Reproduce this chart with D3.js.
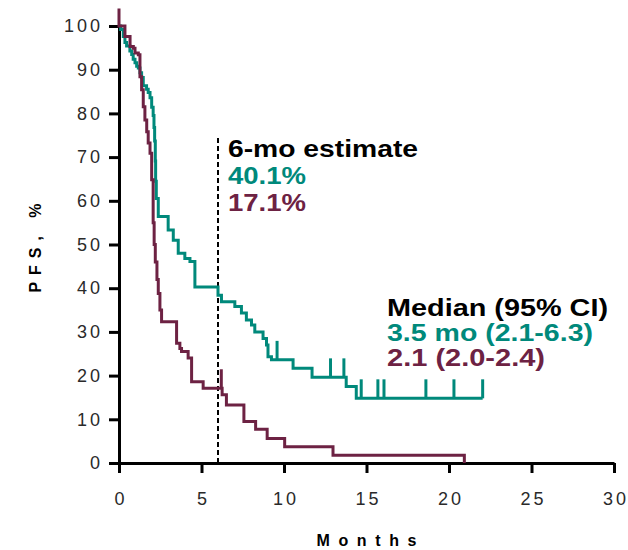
<!DOCTYPE html>
<html>
<head>
<meta charset="utf-8">
<script src="https://cdn.jsdelivr.net/npm/d3@7"></script>
<style>
	body { margin: 0; background: #fff; }
	text { font-family: "Liberation Sans", Arial, sans-serif; }
	.tick text { fill: #2a2a2a; font-size: 18px; letter-spacing: 3px; }
	.axis path, .axis line { stroke: #000; stroke-width: 3; }
</style>
</head>
<body>
<div id="chart"></div>
<script>
/* SET UP */

const w = 628;
const h = 550;
const m = { top: 26, right: 14, bottom: 87, left: 119 };

const teal = "#00897b";
const maroon = "#6d2243";

// KM steps (months, PFS %)
const tealTime = [0, 0.1, 0.26, 0.36, 0.46, 0.66, 0.77, 0.86, 0.97, 1.07, 1.17, 1.27, 1.37, 1.47, 1.67, 1.77, 1.88, 1.98, 2.07, 2.12, 2.16, 2.2, 2.22, 2.26, 2.38, 2.98, 3.29, 3.59, 3.99, 4.3, 4.6, 6.0, 6.21, 7.02, 7.42, 7.72, 8.03, 8.23, 8.73, 8.94, 9.03, 9.24, 10.55, 11.7, 13.77, 14.38, 22.04];
const tealPFS = [100, 99.2, 97.6, 96.2, 95.4, 94.3, 93.5, 92.4, 91.6, 90.8, 90.4, 89.3, 88.2, 86.3, 85.5, 84.8, 83.6, 81.4, 79.5, 76.8, 73.7, 69.1, 64.5, 60.5, 56.4, 53.3, 51.0, 48.0, 46.8, 46.1, 40.3, 38.4, 36.9, 35.8, 34.3, 32.7, 31.6, 30.0, 28.5, 27.0, 24.3, 23.6, 21.7, 19.6, 17.5, 14.8, 14.8];
const tealCensor = [9.58, 12.82, 13.63, 14.68, 15.69, 16.06, 18.6, 20.3, 22.04];

const redTime = [0, 0, 0.36, 0.67, 0.87, 0.97, 1.17, 1.27, 1.37, 1.47, 1.57, 1.68, 1.77, 1.88, 1.98, 2.07, 2.13, 2.2, 2.3, 2.38, 2.48, 2.58, 3.49, 3.69, 3.79, 4.19, 4.4, 5.1, 6.25, 6.51, 7.57, 8.28, 8.98, 10.04, 12.97, 20.93];
const redPFS = [104, 100, 97.6, 95.3, 94.9, 93.8, 93.4, 88.4, 85.4, 81.5, 78.5, 75.8, 73.2, 70.9, 64.8, 55.0, 50.0, 46.0, 42.0, 38.8, 35.0, 32.3, 27.4, 26.2, 25.5, 24.0, 18.6, 17.1, 15.6, 13.3, 9.5, 7.7, 5.6, 3.7, 1.8, 0];
const redCensor = [6.2];

const xTicks = [0, 5, 10, 15, 20, 25, 30];
const yTicks = [0, 10, 20, 30, 40, 50, 60, 70, 80, 90, 100];

const landmark = 6;
const landmarkTop = 75;
const estimateLines = [
	{ text: "6-mo estimate", color: "#000", len: 190 },
	{ text: "40.1%", color: teal, len: 78 },
	{ text: "17.1%", color: maroon, len: 78 },
];
const medianLines = [
	{ text: "Median (95% CI)", color: "#000", len: 221 },
	{ text: "3.5 mo (2.1-6.3)", color: teal, len: 206 },
	{ text: "2.1 (2.0-2.4)", color: maroon, len: 158 },
];

/* MAKING THE CHART */

const svg = d3
	.select("#chart")
	.append("svg")
	.attr("width", w)
	.attr("height", h);

const x = d3.scaleLinear().domain([0, 30]).range([m.left, w - m.right]);
const y = d3.scaleLinear().domain([0, 100]).range([h - m.bottom, m.top]);

// axes
const xAxis = svg
	.append("g")
	.attr("class", "axis")
	.attr("transform", `translate(0,${y(0)})`)
	.call(d3.axisBottom(x).tickValues(xTicks).tickSize(10).tickSizeOuter(0).tickPadding(19));
xAxis.selectAll(".tick text").attr("dx", 1.5);

const yAxis = svg
	.append("g")
	.attr("class", "axis")
	.attr("transform", `translate(${x(0)},0)`)
	.call(d3.axisLeft(y).tickValues(yTicks).tickSize(10).tickSizeOuter(0).tickPadding(6));

// landmark line at 6 months
svg
	.append("line")
	.attr("x1", x(landmark))
	.attr("x2", x(landmark))
	.attr("y1", y(0))
	.attr("y2", y(landmarkTop))
	.attr("stroke", "#000")
	.attr("stroke-width", 2)
	.attr("stroke-dasharray", "5,3");

// FUNCTION to draw one KM curve with its censor marks
function drawCurve(times, pfs, censor, color) {
	const pts = d3.zip(times, pfs);
	const line = d3
		.line()
		.x((d) => x(d[0]))
		.y((d) => y(d[1]))
		.curve(d3.curveStepAfter);

	svg
		.append("path")
		.datum(pts)
		.attr("d", line)
		.attr("fill", "none")
		.attr("stroke", color)
		.attr("stroke-width", 3);

	// censor ticks sit on the curve level at that time
	svg
		.selectAll(null)
		.data(censor)
		.join("line")
		.attr("x1", (d) => x(d))
		.attr("x2", (d) => x(d))
		.attr("y1", (d) => y(pfs[d3.bisectRight(times, d) - 1]))
		.attr("y2", (d) => y(pfs[d3.bisectRight(times, d) - 1]) - 19)
		.attr("stroke", color)
		.attr("stroke-width", 3);
}

drawCurve(tealTime, tealPFS, tealCensor, teal);
drawCurve(redTime, redPFS, redCensor, maroon);

// annotation blocks
function textBlock(lines, x0, y0, step) {
	svg
		.selectAll(null)
		.data(lines)
		.join("text")
		.attr("x", x0)
		.attr("y", (d, i) => y0 + i * step)
		.attr("fill", (d) => d.color)
		.attr("font-size", 24)
		.attr("font-weight", "bold")
		.attr("textLength", (d) => d.len)
		.attr("lengthAdjust", "spacingAndGlyphs")
		.text((d) => d.text);
}

textBlock(estimateLines, x(landmark) + 10, 157, 27);
textBlock(medianLines, 387, 316, 25);

// axis titles
svg
	.append("text")
	.attr("x", (x(0) + x(30)) / 2)
	.attr("y", 546)
	.attr("text-anchor", "middle")
	.attr("font-size", 16)
	.attr("font-weight", "bold")
	.attr("textLength", 100)
	.attr("lengthAdjust", "spacing")
	.text("Months");

svg
	.append("text")
	.attr("transform", `translate(41,248) rotate(-90)`)
	.attr("text-anchor", "middle")
	.attr("font-size", 16)
	.attr("font-weight", "bold")
	.attr("textLength", 89)
	.attr("lengthAdjust", "spacing")
	.text("PFS, %");
</script>
</body>
</html>
